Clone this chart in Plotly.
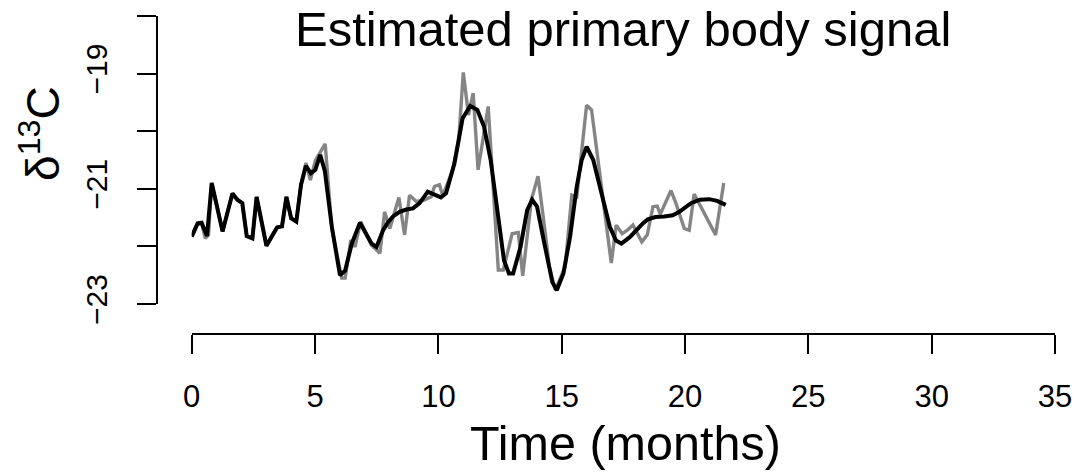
import plotly.graph_objects as go

# Raw (grey) series: time in months, d13C
raw_t = [0, 0.22, 0.40, 0.55, 0.68, 0.81, 1.25, 1.65, 1.85, 2.05, 2.23, 2.46, 2.63, 3.03, 3.26,
         3.46, 3.66, 3.84, 4.03, 4.24, 4.43, 4.63, 4.81, 5.01, 5.41, 5.68, 6.08, 6.22, 6.45, 6.62,
         6.85, 7.29, 7.63, 7.82, 8.03, 8.40, 8.63, 8.83, 9.10, 9.40, 9.71, 9.84, 10.04, 10.18,
         10.58, 10.82, 11.01, 11.22, 11.41, 11.61, 12.02, 12.43, 12.63, 12.99, 13.24, 13.42, 13.77,
         14.04, 14.24, 14.50, 14.74, 15.14, 15.41, 15.61, 16.01, 16.21, 17.01, 17.21, 17.45, 17.66,
         17.89, 18.25, 18.47, 18.70, 18.87, 19.00, 19.43, 19.63, 19.97, 20.17, 20.37, 20.77, 21.24,
         21.57]
raw_v = [-21.83, -21.62, -21.60, -21.86, -21.80, -20.90, -21.74, -21.08, -21.19, -21.25, -21.82,
         -21.86, -21.14, -21.99, -21.80, -21.67, -21.65, -21.14, -21.51, -21.57, -20.93, -20.55,
         -20.85, -20.51, -20.22, -21.69, -22.55, -22.55, -21.89, -22.01, -21.57, -21.98, -22.12,
         -21.40, -21.69, -21.15, -21.80, -21.11, -21.22, -21.20, -21.14, -20.96, -20.93, -21.12,
         -20.67, -20.18, -18.98, -19.72, -19.34, -20.67, -19.57, -22.41, -22.41, -21.78, -21.76,
         -22.51, -21.19, -20.78, -21.45, -22.35, -22.76, -22.35, -21.11, -21.14, -19.55, -19.63,
         -22.29, -21.63, -21.78, -21.72, -21.63, -21.92, -21.80, -21.31, -21.30, -21.44, -21.03,
         -21.25, -21.69, -21.72, -21.09, -21.43, -21.80, -20.90]

# Estimated primary body signal (black)
est_t = [0, 0.24, 0.40, 0.62, 0.81, 1.25, 1.65, 1.85, 2.05, 2.23, 2.46, 2.63, 3.03, 3.26, 3.46,
         3.66, 3.84, 4.03, 4.24, 4.43, 4.63, 4.83, 5.01, 5.21, 5.40, 5.68, 6.01, 6.22, 6.49, 6.82,
         7.00, 7.29, 7.49, 7.76, 7.96, 8.16, 8.43, 8.70, 8.97, 9.24, 9.57, 9.84, 10.10, 10.31,
         10.65, 10.98, 11.29, 11.58, 11.85, 12.12, 12.39, 12.66, 12.86, 13.03, 13.33, 13.60, 13.80,
         14.00, 14.25, 14.47, 14.62, 14.80, 15.07, 15.34, 15.61, 15.81, 16.01, 16.28, 16.55, 16.95,
         17.20, 17.42, 17.76, 17.96, 18.29, 18.49, 18.80, 19.16, 19.50, 19.77, 20.24, 20.60, 20.98,
         21.30, 21.65]
est_v = [-21.83, -21.60, -21.59, -21.82, -20.90, -21.74, -21.08, -21.19, -21.25, -21.82, -21.86,
         -21.14, -21.99, -21.80, -21.67, -21.65, -21.14, -21.51, -21.57, -20.93, -20.60, -20.73,
         -20.67, -20.41, -20.70, -21.66, -22.50, -22.42, -21.95, -21.59, -21.72, -21.95, -22.01,
         -21.72, -21.58, -21.48, -21.40, -21.36, -21.34, -21.25, -21.05, -21.10, -21.15, -21.08,
         -20.56, -19.78, -19.56, -19.63, -19.92, -20.50, -21.37, -22.24, -22.47, -22.47, -22.01,
         -21.37, -21.19, -21.31, -21.85, -22.35, -22.62, -22.76, -22.47, -21.83, -20.96, -20.50,
         -20.27, -20.50, -20.96, -21.66, -21.90, -21.95, -21.84, -21.74, -21.60, -21.53, -21.49,
         -21.48, -21.46, -21.40, -21.25, -21.19, -21.18, -21.21, -21.28]

x_ticks = [0, 5, 10, 15, 20, 25, 30, 35]
y_ticks = [-23, -22, -21, -20, -19, -18]
y_ticktext = ["\u221223", "", "\u221221", "", "\u221219", ""]

title_text = "Estimated primary body signal"
x_title = "Time (months)"
y_title = "δ<sup>13</sup>C"

FONT = "Liberation Sans, Arial, sans-serif"

fig = go.Figure()
fig.add_trace(go.Scatter(x=raw_t, y=raw_v, mode="lines",
                         line=dict(color="#858585", width=3.4), showlegend=False))
fig.add_trace(go.Scatter(x=est_t, y=est_v, mode="lines",
                         line=dict(color="#000000", width=4), showlegend=False))

W, H = 1084, 475
ml, mr, mt, mb = 157, 22, 16, 141
pw = W - ml - mr
ph = H - mt - mb

fig.update_layout(
    width=W, height=H,
    margin=dict(l=ml, r=mr, t=mt, b=mb, pad=0),
    paper_bgcolor="white", plot_bgcolor="white",
    font=dict(family=FONT, color="black"),
    showlegend=False,
    xaxis=dict(
        domain=[(192 - ml) / pw, 1], range=[0, 35], anchor="free", position=0,
        tickvals=x_ticks, ticks="outside", ticklen=19, tickwidth=2, tickcolor="black",
        showline=True, linecolor="black", linewidth=2, showgrid=False, zeroline=False,
        tickfont=dict(size=31, family=FONT, color="black"), ticklabelstandoff=16,
    ),
    yaxis=dict(
        domain=[(334 - 304) / ph, 1], range=[-23, -18], anchor="free", position=0,
        tickvals=y_ticks, ticktext=y_ticktext, ticks="outside", ticklen=19, tickwidth=2,
        tickcolor="black", tickangle=-90,
        showline=True, linecolor="black", linewidth=2, showgrid=False, zeroline=False,
        tickfont=dict(size=30, family=FONT, color="black"), ticklabelstandoff=18,
    ),
)

def fy(ypix):
    return 1 - (ypix - mt) / ph

def fx(xpix):
    return (xpix - ml) / pw

fig.add_annotation(text=title_text, xref="paper", yref="paper", x=fx(627), y=fy(29),
                   xanchor="center", yanchor="middle", showarrow=False,
                   font=dict(size=49, family=FONT, color="black"))
fig.add_annotation(text=x_title, xref="paper", yref="paper", x=fx(629), y=fy(443),
                   xanchor="center", yanchor="middle", showarrow=False,
                   font=dict(size=48.5, family=FONT, color="black"))
fig.add_annotation(text=y_title, xref="paper", yref="paper", x=fx(39), y=fy(133),
                   xanchor="center", yanchor="middle", showarrow=False, textangle=-90,
                   font=dict(size=46, family=FONT, color="black"))

fig.write_html("out.html")
